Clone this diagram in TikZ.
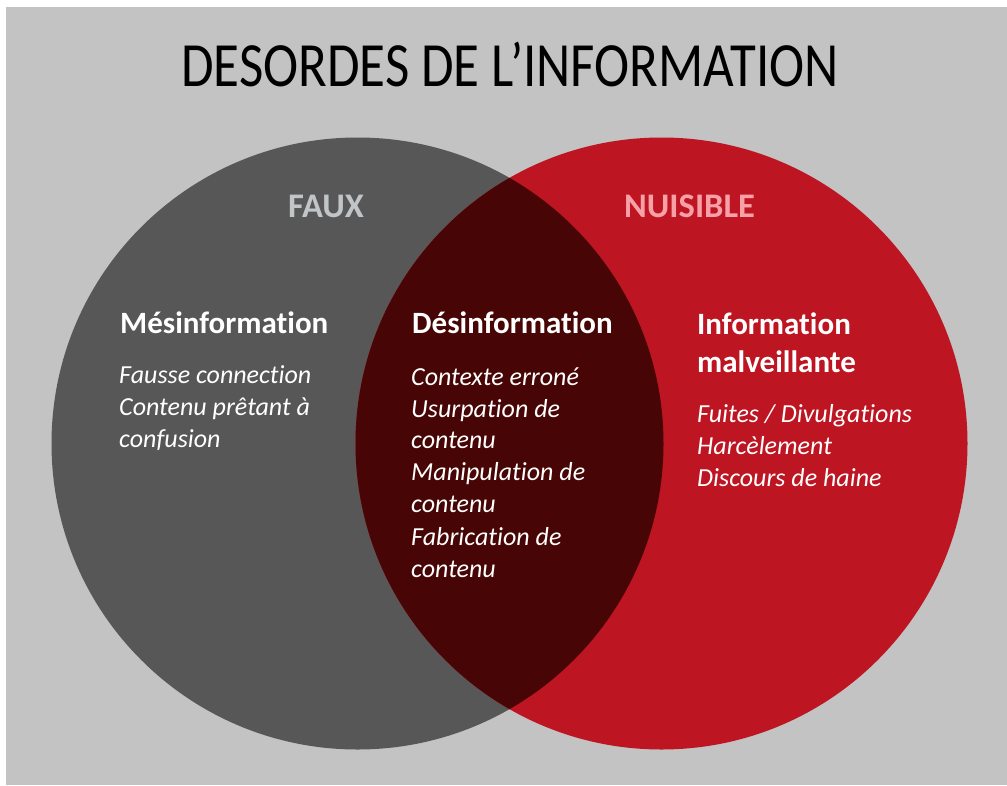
\documentclass[tikz,border=0pt]{standalone}
\usepackage{fontspec}
\setmainfont{Carlito}[Ligatures={NoCommon}]
\definecolor{bggray}{HTML}{C3C3C3}
\definecolor{leftgray}{HTML}{575757}
\definecolor{rightred}{HTML}{BD1522}
\definecolor{midred}{HTML}{470605}
\definecolor{fauxcol}{HTML}{C2C5C8}
\definecolor{nuiscol}{HTML}{F8A0A8}
\tikzset{
  titletext/.style={anchor=base, font=\fontsize{63}{70}\selectfont, text=black, inner sep=0pt},
  settext/.style={anchor=base west, font=\fontsize{34.5}{38}\selectfont\bfseries, inner sep=0pt},
  headtext/.style={anchor=base west, font=\fontsize{31}{38}\selectfont\bfseries, text=white, inner sep=0pt},
  itemtext/.style={anchor=base west, font=\fontsize{26}{32}\selectfont\itshape, text=white, inner sep=0pt},
}
\begin{document}
\begin{tikzpicture}[x=1pt,y=-1pt]
\useasboundingbox (0,0) rectangle (1007,785);
\fill[white] (0,0) rectangle (1007,785);
\fill[bggray] (6,7) rectangle (1007,785);
% circles
\fill[leftgray] (357.5,443.5) circle[radius=306];
\fill[rightred] (661.5,443.5) circle[radius=306];
\begin{scope}
  \clip (357.5,443.5) circle[radius=306];
  \fill[midred] (661.5,443.5) circle[radius=306];
\end{scope}
% title
\node[titletext] (title) at (510,86) {\scalebox{0.84}[1]{DESORDES DE L’INFORMATION}};
% set labels
\node[settext, text=fauxcol] (faux) at (288,217) {FAUX};
\node[settext, text=nuiscol] (nuisible) at (624,217) {NUISIBLE};
% headings
\node[headtext] (mes) at (120,333) {Mésinformation};
\node[headtext] (des) at (412,333) {Désinformation};
\node[headtext] (mal1) at (697,334) {Information};
\node[headtext] (mal2) at (697,372) {malveillante};
% items: Mesinformation
\node[itemtext] (mesa) at (119,383) {Fausse connection};
\node[itemtext] (mesb) at (119,415) {Contenu prêtant à};
\node[itemtext] (mesc) at (119,447) {confusion};
% items: Desinformation
\node[itemtext] (desa) at (411,385) {Contexte erroné};
\node[itemtext] (desb) at (411,417) {Usurpation de};
\node[itemtext] (desc) at (411,448) {contenu};
\node[itemtext] (desd) at (411,480) {Manipulation de};
\node[itemtext] (dese) at (411,512) {contenu};
\node[itemtext] (desf) at (411,545) {Fabrication de};
\node[itemtext] (desg) at (411,577) {contenu};
% items: Information malveillante
\node[itemtext] (mala) at (697,422) {Fuites / Divulgations};
\node[itemtext] (malb) at (697,454) {Harcèlement};
\node[itemtext] (malc) at (697,486) {Discours de haine};
\end{tikzpicture}
\end{document}
